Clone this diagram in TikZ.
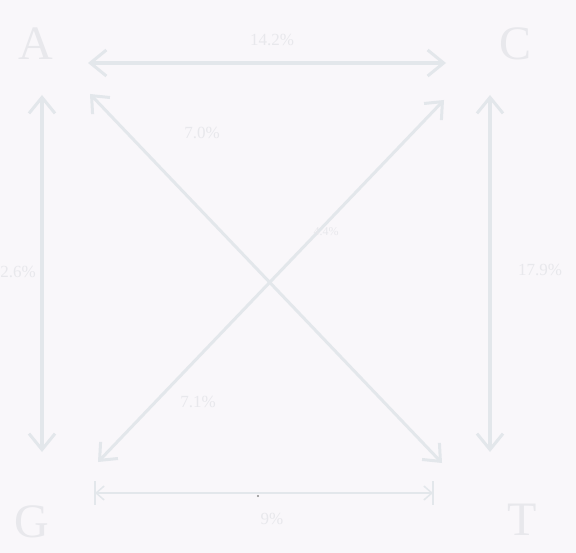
\documentclass[tikz,border=0pt]{standalone}
\usepackage{fontspec}
\setmainfont{Liberation Serif}
\usetikzlibrary{arrows.meta,calc}
\definecolor{bgc}{HTML}{F9F7FA}
\definecolor{lnc}{HTML}{E3E7EB}
\definecolor{txc}{HTML}{E8E8EC}
\tikzset{
  base/.style={x=1pt,y=-1pt},
  letter/.style={text=txc,font=\fontsize{48}{48}\selectfont,inner sep=0pt},
  pct/.style={text=txc,font=\fontsize{17}{17}\selectfont,inner sep=1pt},
  dbl/.style={draw=lnc,line width=4pt,{Straight Barb[length=16pt,width=26pt,line width=3pt]}-{Straight Barb[length=16pt,width=26pt,line width=3pt]}},
  diag/.style={draw=lnc,line width=3pt,{Straight Barb[length=14pt,width=24pt,line width=3pt]}-{Straight Barb[length=14pt,width=24pt,line width=3pt]}},
  thin/.style={draw=lnc,line width=1.8pt,{Straight Barb[length=8pt,width=14pt,line width=1.5pt]}-{Straight Barb[length=8pt,width=14pt,line width=1.5pt]}}
}
\begin{document}
\begin{tikzpicture}[base]
\fill[bgc] (0,0) rectangle (576,553);
\useasboundingbox (0,0) rectangle (576,553);
% base letters
\node[letter] (A) at (36,44) {A};
\node[letter] (C) at (516,44) {C};
\node[letter] (G) at (32,522) {G};
\node[letter] (T) at (522,520) {T};
% arrow ends
\coordinate (tl) at (88,63);
\coordinate (tr) at (446,63);
\coordinate (lt) at (42,95);
\coordinate (lb) at (42,452);
\coordinate (rt) at (490,95);
\coordinate (rb) at (490,452);
\coordinate (d1s) at (90,94);
\coordinate (d1e) at (442,463);
\coordinate (d2s) at (98,462);
\coordinate (d2e) at (444,100);
\coordinate (bl) at (95,493);
\coordinate (br) at (433,493);
% arrows
\draw[dbl] (tl) -- (tr);
\draw[dbl] (lt) -- (lb);
\draw[dbl] (rt) -- (rb);
\draw[diag] (d1s) -- (d1e);
\draw[diag] (d2s) -- (d2e);
\draw[thin] (bl) -- (br);
\draw[draw=lnc,line width=1.5pt] ($(bl)+(0,-12)$) -- ($(bl)+(0,12)$);
\draw[draw=lnc,line width=1.5pt] ($(br)+(0,-12)$) -- ($(br)+(0,12)$);
\fill[black!45] (258,496) circle (1.1pt);
% labels
\node[pct] (l1) at (272,40) {14.2\%};
\node[pct] (l2) at (18,272) {2.6\%};
\node[pct] (l3) at (540,270) {17.9\%};
\node[pct] (l4) at (202,133) {7.0\%};
\node[pct] (l5) at (198,402) {7.1\%};
\node[pct] (l6) at (272,519) {9\%};
\node[pct,font=\fontsize{12}{12}\selectfont] (l7) at (326,232) {4.4\%};
\end{tikzpicture}
\end{document}
